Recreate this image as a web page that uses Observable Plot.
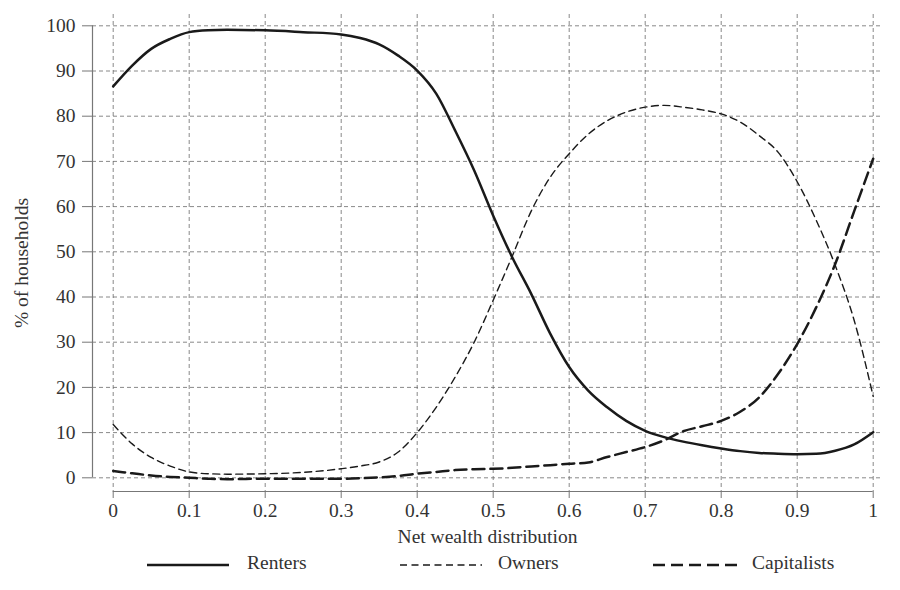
<!DOCTYPE html>
<html>
<head>
<meta charset="utf-8">
<script src="https://cdn.jsdelivr.net/npm/d3@7"></script>
<script src="https://cdn.jsdelivr.net/npm/@observablehq/plot@0.6"></script>
<style>
  html, body { margin: 0; padding: 0; background: #fff; }
  #wrap { width: 900px; height: 590px; position: relative; font-family: "Liberation Serif", "DejaVu Serif", serif; color: #333; }
  #legend { position: relative; width: 900px; height: 42px; }
  .item { position: absolute; top: 0; height: 42px; }
  .item svg { position: absolute; top: 0; left: 0; }
  .item span { position: absolute; font-size: 19.5px; white-space: nowrap; top: 4px; }
</style>
</head>
<body>
<div id="wrap"><div id="chart"></div><div id="legend"></div></div>
<script>
const xValues = [0, 0.025, 0.05, 0.075, 0.1, 0.125, 0.15, 0.2, 0.25, 0.3, 0.325, 0.35, 0.375, 0.4, 0.425, 0.45, 0.475, 0.5, 0.525, 0.55, 0.575, 0.6, 0.625, 0.65, 0.675, 0.7, 0.725, 0.75, 0.775, 0.8, 0.825, 0.85, 0.875, 0.9, 0.925, 0.95, 0.975, 1];
const renters = [86.6, 91.2, 94.9, 97.1, 98.6, 99.0, 99.1, 99.0, 98.6, 98.1, 97.3, 95.9, 93.4, 90.1, 85.0, 76.8, 68.0, 58.0, 48.8, 40.7, 31.9, 24.5, 19.3, 15.6, 12.6, 10.4, 9.0, 8.0, 7.2, 6.5, 5.9, 5.5, 5.3, 5.2, 5.3, 6.0, 7.4, 10.1];
const owners = [11.8, 7.5, 4.5, 2.6, 1.3, 0.9, 0.8, 0.9, 1.2, 2.0, 2.6, 3.5, 5.7, 10.0, 15.6, 22.3, 30.0, 39.3, 49.0, 59.0, 66.5, 71.7, 76.0, 79.0, 80.9, 82.0, 82.4, 82.0, 81.4, 80.5, 78.7, 75.7, 72.0, 65.5, 57.0, 47.0, 34.8, 18.0];
const capitalists = [1.5, 1.0, 0.5, 0.2, 0.0, -0.2, -0.3, -0.2, -0.2, -0.2, -0.1, 0.1, 0.4, 0.9, 1.3, 1.7, 1.9, 2.0, 2.2, 2.5, 2.8, 3.1, 3.4, 4.6, 5.7, 6.8, 8.3, 10.3, 11.4, 12.6, 14.6, 17.8, 23.0, 29.6, 37.7, 47.3, 59.0, 70.6];

const seriesNames = ["Renters", "Owners", "Capitalists"];
const xTicks = [0, 0.1, 0.2, 0.3, 0.4, 0.5, 0.6, 0.7, 0.8, 0.9, 1];
const xTickLabels = ["0", "0.1", "0.2", "0.3", "0.4", "0.5", "0.6", "0.7", "0.8", "0.9", "1"];
const yTicks = [0, 10, 20, 30, 40, 50, 60, 70, 80, 90, 100];
const xLabel = "Net wealth distribution";
const yLabel = "% of households";

const styles = {
  Renters: { strokeWidth: 2.5, strokeDasharray: null },
  Owners: { strokeWidth: 1.4, strokeDasharray: "7,4.5" },
  Capitalists: { strokeWidth: 2.5, strokeDasharray: "12,6" }
};
const seriesValues = { Renters: renters, Owners: owners, Capitalists: capitalists };
const rows = seriesNames.flatMap(s => xValues.map((x, i) => ({ series: s, x, y: seriesValues[s][i] })));

const insetLeft = 20.7, insetBottom = 13.7;
const FS = 19.5;
const gridStyle = { stroke: "#6a6a6a", strokeOpacity: 1, strokeWidth: 0.8, strokeDasharray: "4,3" };

const chart = Plot.plot({
  width: 900,
  height: 548,
  marginTop: 14,
  marginBottom: 57,
  marginLeft: 92,
  marginRight: 18,
  insetTop: 11.3,
  insetBottom: insetBottom,
  insetLeft: insetLeft,
  insetRight: 9.3,
  style: { fontFamily: "Liberation Serif, DejaVu Serif, serif", fontSize: FS + "px", color: "#333", background: "#fff", overflow: "visible" },
  x: { domain: [0, 1] },
  y: { domain: [0, 100] },
  marks: [
    Plot.gridX(xTicks, gridStyle),
    Plot.gridY(yTicks, gridStyle),
    Plot.ruleX([xTicks[0]], { y1: yTicks[0], y2: yTicks[yTicks.length - 1], dx: -insetLeft, stroke: "#777", strokeWidth: 1.2 }),
    Plot.ruleY([yTicks[0]], { x1: xTicks[0], x2: xTicks[xTicks.length - 1], dy: insetBottom, stroke: "#777", strokeWidth: 1.2 }),
    Plot.axisY({ ticks: yTicks, tickSize: 10, tickPadding: 7, stroke: "#777", fill: "#333", fontSize: FS, label: null }),
    Plot.axisX({ ticks: xTicks, tickSize: 7, tickPadding: 5, stroke: "#777", fill: "#333", fontSize: FS,
      tickFormat: d => xTickLabels[xTicks.indexOf(d)],
      label: xLabel, labelAnchor: "center", labelArrow: "none", labelOffset: 51 }),
    Plot.text([yLabel], { frameAnchor: "left", textAnchor: "middle", lineAnchor: "middle", rotate: -90, dx: -71, dy: 10, fontSize: FS, fill: "#333" }),
    ...seriesNames.map(s => Plot.line(rows.filter(r => r.series === s), {
      x: "x", y: "y", curve: "monotone-x", stroke: "#1a1a1a",
      strokeWidth: styles[s].strokeWidth, strokeDasharray: styles[s].strokeDasharray
    }))
  ]
});
document.getElementById("chart").appendChild(chart);

// Legend
const legendPos = { Renters: [147, 247], Owners: [400, 498], Capitalists: [653, 752] };
const legend = document.getElementById("legend");
for (const s of seriesNames) {
  const [lx, tx] = legendPos[s];
  const item = document.createElement("div");
  item.className = "item";
  item.style.left = lx + "px";
  item.style.width = (tx - lx + 110) + "px";
  const len = s === "Capitalists" ? 84 : 82;
  item.innerHTML = `<svg width="${len + 2}" height="42"><line x1="0" x2="${len}" y1="17" y2="17" stroke="#1a1a1a" stroke-width="${styles[s].strokeWidth}" ${styles[s].strokeDasharray ? `stroke-dasharray="${styles[s].strokeDasharray}"` : ""}/></svg><span style="left:${tx - lx}px">${s}</span>`;
  legend.appendChild(item);
}
</script>
</body>
</html>
